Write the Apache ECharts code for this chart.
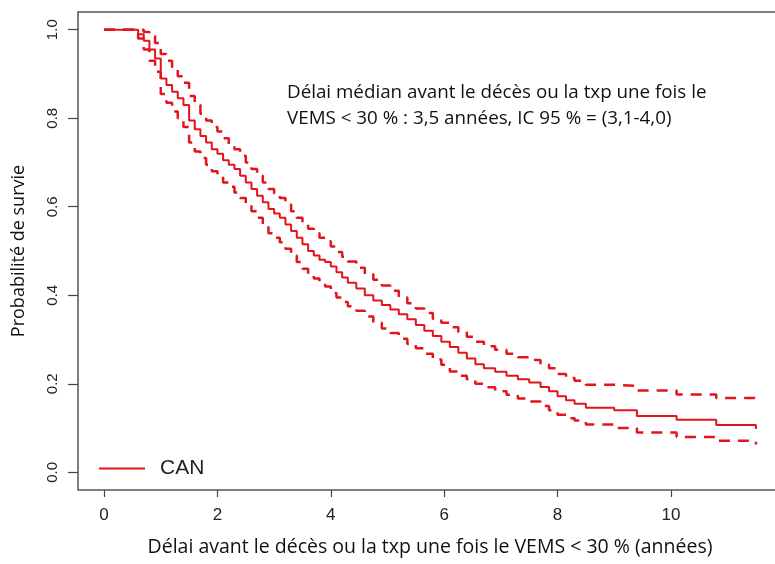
<!DOCTYPE html>
<html>
<head>
<meta charset="utf-8">
<script src="https://cdn.jsdelivr.net/npm/echarts@6/dist/echarts.min.js"></script>
<style>
  html, body { margin: 0; padding: 0; background: #fff; }
  #main { width: 775px; height: 564px; }
</style>
</head>
<body>
<div id="main"></div>
<script>
// temps (années) des marches de la courbe de Kaplan-Meier
const times = [0, 0.6, 0.7, 0.8, 0.9, 1.0, 1.1, 1.2, 1.3, 1.4, 1.5, 1.6, 1.7, 1.8, 1.9, 2.0, 2.1, 2.2, 2.3, 2.4,
  2.5, 2.6, 2.7, 2.8, 2.9, 3.0, 3.1, 3.2, 3.3, 3.4, 3.5, 3.6, 3.7, 3.8, 3.9, 4.0, 4.1, 4.2, 4.3, 4.45,
  4.6, 4.75, 4.9, 5.05, 5.2, 5.35, 5.5, 5.65, 5.8, 5.95, 6.1, 6.25, 6.4, 6.55, 6.7, 6.9, 7.1, 7.3, 7.5, 7.7,
  7.85, 8.0, 8.15, 8.3, 8.5, 9.0, 9.4, 10.1, 10.8, 11.5];

const survie = [1.0, 0.99, 0.975, 0.955, 0.935, 0.89, 0.875, 0.86, 0.845, 0.83, 0.795, 0.775, 0.76, 0.745, 0.73, 0.72, 0.705, 0.695, 0.685, 0.67,
  0.655, 0.64, 0.625, 0.61, 0.595, 0.585, 0.575, 0.56, 0.545, 0.53, 0.515, 0.5, 0.49, 0.48, 0.475, 0.465, 0.452, 0.44, 0.428, 0.415,
  0.40, 0.388, 0.378, 0.368, 0.357, 0.346, 0.333, 0.32, 0.308, 0.295, 0.283, 0.27, 0.257, 0.244, 0.235, 0.227, 0.218, 0.21, 0.203, 0.193,
  0.183, 0.172, 0.163, 0.155, 0.146, 0.14, 0.127, 0.119, 0.107, 0.098];

const icSup = [1.0, 1.0, 0.995, 0.985, 0.97, 0.945, 0.93, 0.91, 0.895, 0.88, 0.85, 0.83, 0.81, 0.795, 0.78, 0.77, 0.755, 0.74, 0.73, 0.715,
  0.70, 0.685, 0.67, 0.655, 0.64, 0.63, 0.62, 0.605, 0.59, 0.575, 0.56, 0.55, 0.54, 0.53, 0.522, 0.51, 0.498, 0.487, 0.476, 0.462,
  0.448, 0.435, 0.422, 0.41, 0.395, 0.382, 0.37, 0.36, 0.347, 0.338, 0.328, 0.317, 0.306, 0.295, 0.285, 0.277, 0.268, 0.26, 0.254, 0.243,
  0.235, 0.222, 0.213, 0.207, 0.198, 0.195, 0.185, 0.176, 0.168, 0.16];

const icInf = [1.0, 0.98, 0.955, 0.93, 0.905, 0.855, 0.835, 0.815, 0.80, 0.78, 0.745, 0.725, 0.71, 0.695, 0.68, 0.67, 0.655, 0.645, 0.632, 0.62,
  0.605, 0.59, 0.575, 0.56, 0.54, 0.53, 0.52, 0.505, 0.49, 0.475, 0.46, 0.448, 0.438, 0.428, 0.42, 0.405, 0.395, 0.385, 0.375, 0.365,
  0.352, 0.338, 0.325, 0.315, 0.302, 0.29, 0.28, 0.268, 0.255, 0.243, 0.228, 0.218, 0.21, 0.2, 0.192, 0.183, 0.175, 0.167, 0.16, 0.15,
  0.14, 0.13, 0.122, 0.117, 0.108, 0.10, 0.09, 0.08, 0.071, 0.063];

const xTicks = [0, 2, 4, 6, 8, 10];
const yTicks = [0, 0.2, 0.4, 0.6, 0.8, 1.0];

const rouge = '#e3141b';

function pts(ys) {
  return times.map((t, i) => [t, ys[i]]);
}

let myChart = echarts.init(document.getElementById('main'));
let option = {
  animation: false,
  backgroundColor: '#fff',
  // le cadre déborde à droite de l'image, comme sur l'original
  grid: {
    left: 78, top: 12, width: 704, height: 478,
    outerBoundsMode: 'none', containLabel: false,
    show: true, borderColor: '#555', borderWidth: 1.5
  },
  legend: {
    data: ['CAN'],
    left: 94, top: 453,
    icon: 'rect', itemWidth: 46, itemHeight: 2,
    textStyle: { fontFamily: 'Liberation Sans', fontSize: 21, color: '#222', padding: [0, 0, 0, 10] }
  },
  xAxis: {
    type: 'value', min: -0.46, max: 11.96,
    splitLine: { show: false },
    axisLine: { show: false, onZero: false },
    axisTick: { show: true, customValues: xTicks, length: 7, lineStyle: { color: '#444', width: 1.2 } },
    axisLabel: { customValues: xTicks, margin: 17, fontFamily: 'Liberation Sans', fontSize: 17, color: '#222' },
    name: 'Délai avant le décès ou la txp une fois le VEMS < 30 % (années)',
    nameLocation: 'middle', nameGap: 47,
    nameTextStyle: { fontFamily: 'Open Sans', fontSize: 19.5, color: '#111' }
  },
  yAxis: {
    type: 'value', min: -0.04, max: 1.04,
    splitLine: { show: false },
    axisLine: { show: false, onZero: false },
    axisTick: { show: true, customValues: yTicks, length: 10, lineStyle: { color: '#444', width: 1.2 } },
    axisLabel: {
      customValues: yTicks, rotate: 90, margin: 18,
      fontFamily: 'Liberation Sans', fontSize: 15, color: '#222',
      formatter: v => v.toFixed(1)
    },
    name: 'Probabilité de survie',
    nameLocation: 'middle', nameGap: 50,
    nameTextStyle: { fontFamily: 'Open Sans', fontSize: 18, color: '#111' }
  },
  graphic: [
    {
      type: 'text', left: 287, top: 80,
      style: {
        text: 'Délai médian avant le décès ou la txp une fois le\nVEMS < 30 % : 3,5 années, IC 95 % = (3,1-4,0)',
        font: '18.8px "Open Sans"', fill: '#111', lineHeight: 26
      }
    }
  ],
  series: [
    {
      name: 'CAN', type: 'line', step: 'end', showSymbol: false,
      data: pts(survie),
      lineStyle: { color: rouge, width: 2 },
      itemStyle: { color: rouge }
    },
    {
      name: 'IC sup', type: 'line', step: 'end', showSymbol: false,
      data: pts(icSup),
      lineStyle: { color: rouge, width: 2.5, type: [11, 8] }
    },
    {
      name: 'IC inf', type: 'line', step: 'end', showSymbol: false,
      data: pts(icInf),
      lineStyle: { color: rouge, width: 2.5, type: [11, 8] }
    }
  ]
};
option && myChart.setOption(option);
</script>
</body>
</html>
